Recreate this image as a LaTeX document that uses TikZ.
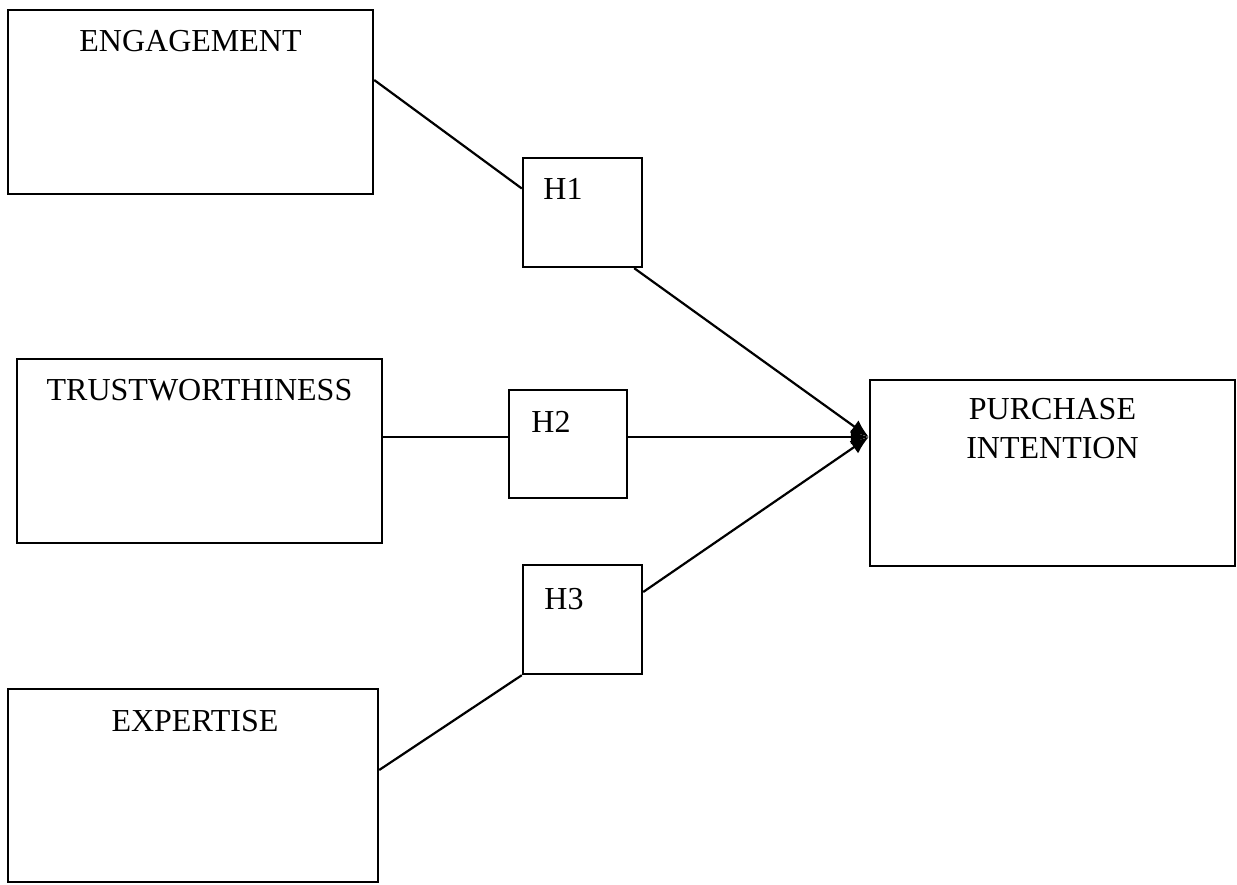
\documentclass[tikz,border=0pt]{standalone}
\usepackage{fontspec}
\setmainfont{Liberation Serif}
\usetikzlibrary{arrows.meta}

\begin{document}
\begin{tikzpicture}[x=0.5pt, y=-0.5pt,
  box/.style={draw, line width=1.2pt, inner sep=0pt},
  txt/.style={inner sep=0pt, font=\fontsize{16}{19.5}\selectfont, align=center},
  link/.style={line width=1.1pt},
  hyp/.style={line width=1.1pt, -{Latex[length=9pt, width=7.5pt]}}]
  \useasboundingbox (0,0) rectangle (1237,884);

  % constructs
  \node (eng) at (190.5, 102) [box, minimum width=182.5pt, minimum height=92pt] {};
  \node (trust) at (199.5, 451) [box, minimum width=182.5pt, minimum height=92pt] {};
  \node (exp) at (193, 785.5) [box, minimum width=185pt, minimum height=96.5pt] {};
  \node (pi) at (1052.5, 473) [box, minimum width=182.5pt, minimum height=93pt] {};

  \node (engtxt) at (190.5, 41) [txt] {ENGAGEMENT};
  \node (trusttxt) at (199.5, 390) [txt] {TRUSTWORTHINESS};
  \node (exptxt) at (195, 721) [txt] {EXPERTISE};
  \node (pitxt) at (1052.5, 428.5) [txt] {PURCHASE\\INTENTION};

  % hypotheses
  \node (h1) at (582.5, 212.5) [box, minimum width=59.5pt, minimum height=54.5pt] {};
  \node (h2) at (568, 444) [box, minimum width=59pt, minimum height=54pt] {};
  \node (h3) at (582.5, 619.5) [box, minimum width=59.5pt, minimum height=54.5pt] {};

  \node (h1txt) at (543, 189) [txt, anchor=west] {H1};
  \node (h2txt) at (531, 422) [txt, anchor=west] {H2};
  \node (h3txt) at (544, 599) [txt, anchor=west] {H3};

  \draw[link] ([yshift=11pt]eng.east) -- ([yshift=12pt]h1.west);
  \draw[hyp] ([xshift=-4.5pt]h1.south east) -- ([yshift=18pt]pi.west);
  \draw[link] ([yshift=7pt]trust.east) -- ([yshift=3.5pt]h2.west);
  \draw[hyp] ([yshift=3.5pt]h2.east) -- ([yshift=18pt]pi.west);
  \draw[link] ([yshift=7.75pt]exp.east) -- (h3.south west);
  \draw[hyp] ([yshift=13.75pt]h3.east) -- ([yshift=18pt]pi.west);
\end{tikzpicture}
\end{document}
